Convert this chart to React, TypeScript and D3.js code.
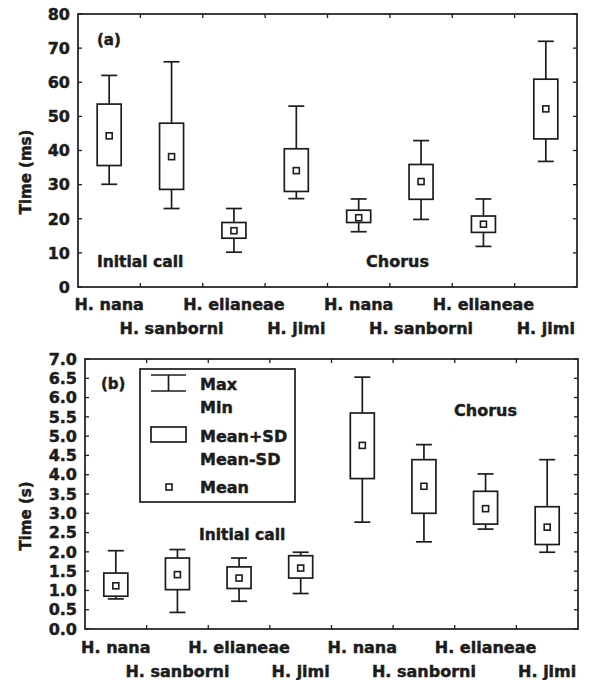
import React from "react";
import * as d3 from "d3";

// Categories: 4 species, recorded in two contexts
const species = ["H. nana", "H. sanborni", "H. elianeae", "H. jimi"];
const contexts = ["Initial call", "Chorus"];
const categories = contexts.flatMap((c) => species.map((s) => `${c}|${s}`));

// Panel (a): Time (ms)
const aMax = [62, 66, 23, 53, 25.8, 42.9, 25.8, 72];
const aSdHigh = [53.6, 48, 18.9, 40.5, 22.5, 35.9, 20.8, 60.9];
const aMean = [44.3, 38.2, 16.5, 34.1, 20.3, 30.9, 18.4, 52.2];
const aSdLow = [35.6, 28.6, 14.3, 28, 18.9, 25.7, 16, 43.4];
const aMin = [30.1, 23, 10.2, 25.9, 16.2, 19.8, 11.9, 36.8];
const aTicks = [0, 10, 20, 30, 40, 50, 60, 70, 80];

// Panel (b): Time (s)
const bMax = [2.03, 2.06, 1.84, 1.99, 6.53, 4.78, 4.02, 4.39];
const bSdHigh = [1.45, 1.84, 1.61, 1.9, 5.6, 4.39, 3.57, 3.17];
const bMean = [1.12, 1.41, 1.32, 1.58, 4.76, 3.7, 3.12, 2.64];
const bSdLow = [0.85, 1.02, 1.05, 1.32, 3.9, 3.0, 2.72, 2.19];
const bMin = [0.78, 0.43, 0.72, 0.92, 2.77, 2.26, 2.59, 1.99];
const bTicks = [0, 0.5, 1, 1.5, 2, 2.5, 3, 3.5, 4, 4.5, 5, 5.5, 6, 6.5, 7];

const FONT = "'DejaVu Sans', Arial, sans-serif";
const INK = "#1c1c1c";
const TXT = { fontFamily: FONT, fontWeight: "bold" as const, fill: INK, stroke: INK, strokeWidth: 0.45 };

type PanelProps = {
  left: number; right: number; top: number; bottom: number;
  domainMax: number; ticks: number[]; fmt: (v: number) => string;
  max: number[]; sdHigh: number[]; mean: number[]; sdLow: number[]; min: number[];
  label: string; labelPos: [number, number];
  yTitle: string; yTitleCenter: number;
  initPos: [number, number]; chorusPos: [number, number];
  row1: number; row2: number;
};

function Panel(p: PanelProps) {
  const x = d3.scaleBand<string>().domain(categories).range([p.left, p.right]).paddingInner(0).paddingOuter(0);
  const y = d3.scaleLinear().domain([0, p.domainMax]).range([p.bottom, p.top]);
  const bw = 24;
  const cap = 16;
  const tk = 4;
  const bounds = categories.slice(1).map((c) => x(c) as number);
  return (
    <g>
      <rect x={p.left} y={p.top} width={p.right - p.left} height={p.bottom - p.top} fill="none" stroke={INK} strokeWidth={1.7} />
      {bounds.map((bx, i) => (
        <g key={"xt" + i}>
          <line x1={bx} x2={bx} y1={p.bottom} y2={p.bottom - tk} stroke={INK} strokeWidth={1.3} />
          <line x1={bx} x2={bx} y1={p.top} y2={p.top + tk} stroke={INK} strokeWidth={1.3} />
        </g>
      ))}
      {p.ticks.map((t, i) => (
        <g key={"yt" + i}>
          <line x1={p.left} x2={p.left + tk} y1={y(t)} y2={y(t)} stroke={INK} strokeWidth={1.3} />
          <line x1={p.right} x2={p.right - tk} y1={y(t)} y2={y(t)} stroke={INK} strokeWidth={1.3} />
          <text x={p.left - 8} y={y(t)} dy="0.36em" textAnchor="end" fontSize={16} {...TXT}>
            {p.fmt(t)}
          </text>
        </g>
      ))}
      {categories.map((c, i) => {
        const cx = (x(c) as number) + x.bandwidth() / 2;
        return (
          <g key={c}>
            <line x1={cx} x2={cx} y1={y(p.max[i])} y2={y(p.sdHigh[i])} stroke={INK} strokeWidth={1.7} />
            <line x1={cx} x2={cx} y1={y(p.sdLow[i])} y2={y(p.min[i])} stroke={INK} strokeWidth={1.7} />
            <line x1={cx - cap / 2} x2={cx + cap / 2} y1={y(p.max[i])} y2={y(p.max[i])} stroke={INK} strokeWidth={1.7} />
            <line x1={cx - cap / 2} x2={cx + cap / 2} y1={y(p.min[i])} y2={y(p.min[i])} stroke={INK} strokeWidth={1.7} />
            <rect x={cx - bw / 2} y={y(p.sdHigh[i])} width={bw} height={y(p.sdLow[i]) - y(p.sdHigh[i])} fill="white" stroke={INK} strokeWidth={1.7} />
            <rect x={cx - 3} y={y(p.mean[i]) - 3} width={6} height={6} fill="white" stroke={INK} strokeWidth={1.6} />
            <text x={cx} y={i % 2 === 0 ? p.row1 : p.row2} textAnchor="middle" fontSize={16} {...TXT}>
              {species[i % species.length]}
            </text>
          </g>
        );
      })}
      <text x={p.labelPos[0]} y={p.labelPos[1]} fontSize={15} {...TXT}>{p.label}</text>
      <text x={p.initPos[0]} y={p.initPos[1]} fontSize={15.5} {...TXT}>{contexts[0]}</text>
      <text x={p.chorusPos[0]} y={p.chorusPos[1]} fontSize={16} {...TXT}>{contexts[1]}</text>
      <text transform={`translate(31,${p.yTitleCenter}) rotate(-90)`} textAnchor="middle" fontSize={15} {...TXT}>
        {p.yTitle}
      </text>
    </g>
  );
}

function Legend() {
  const lx = 140, ly = 369, lw = 155, lh = 133;
  return (
    <g>
      <rect x={lx} y={ly} width={lw} height={lh} fill="white" stroke={INK} strokeWidth={1.7} />
      <line x1={151} x2={186} y1={375} y2={375} stroke={INK} strokeWidth={1.7} />
      <line x1={151} x2={186} y1={391} y2={391} stroke={INK} strokeWidth={1.7} />
      <line x1={168.5} x2={168.5} y1={375} y2={391} stroke={INK} strokeWidth={1.7} />
      <rect x={151} y={427} width={35} height={15} fill="white" stroke={INK} strokeWidth={1.7} />
      <rect x={166} y={484} width={6} height={6} fill="white" stroke={INK} strokeWidth={1.6} />
      {[["Max", 390], ["Min", 413], ["Mean+SD", 442], ["Mean-SD", 465], ["Mean", 493]].map(([t, yy]) => (
        <text key={t as string} x={200} y={yy as number} fontSize={16} {...TXT}>{t}</text>
      ))}
    </g>
  );
}

export default function App() {
  return (
    <svg width={590} height={680} viewBox="0 0 590 680" style={{ position: "absolute", left: 0, top: 0, background: "white" }}>
      <rect x={0} y={0} width={590} height={680} fill="white" />
      <Panel
        left={78} right={577} top={14} bottom={287}
        domainMax={80} ticks={aTicks} fmt={(v) => d3.format("d")(v)}
        max={aMax} sdHigh={aSdHigh} mean={aMean} sdLow={aSdLow} min={aMin}
        label="(a)" labelPos={[97, 45]}
        yTitle="Time (ms)" yTitleCenter={172}
        initPos={[97, 267]} chorusPos={[366, 267]}
        row1={310} row2={334}
      />
      <Panel
        left={85} right={578} top={359} bottom={629}
        domainMax={7} ticks={bTicks} fmt={(v) => d3.format(".1f")(v)}
        max={bMax} sdHigh={bSdHigh} mean={bMean} sdLow={bSdLow} min={bMin}
        label="(b)" labelPos={[101, 389]}
        yTitle="Time (s)" yTitleCenter={516}
        initPos={[199, 540]} chorusPos={[454, 416]}
        row1={653} row2={677}
      />
      <Legend />
    </svg>
  );
}
